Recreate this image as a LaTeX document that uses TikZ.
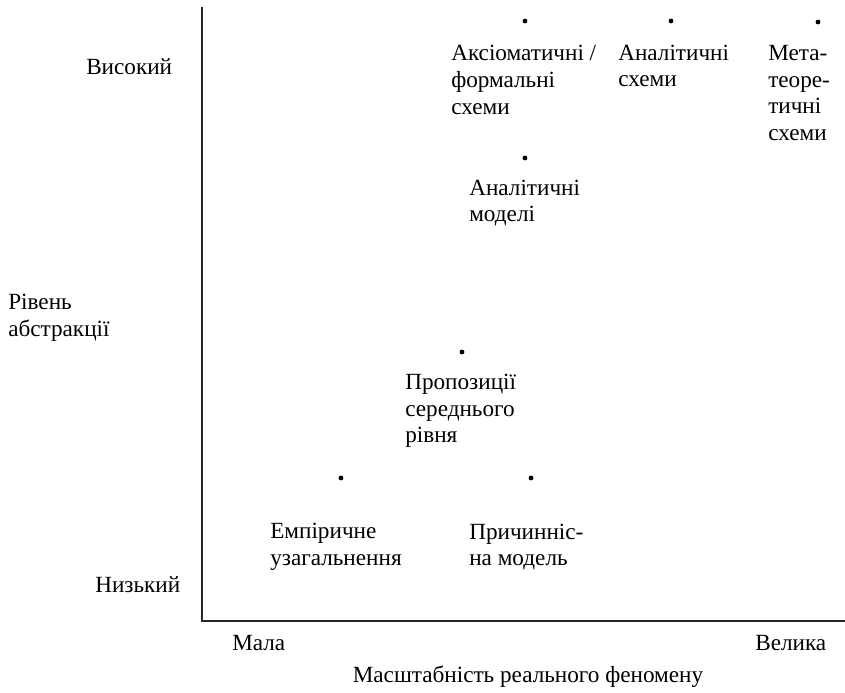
\documentclass[tikz,border=0pt]{standalone}
\usepackage{fontspec}
\setmainfont{Liberation Serif}
\begin{document}
\begin{tikzpicture}[x=0.75pt,y=-0.75pt,
  lbl/.style={font=\fontsize{17.4}{20}\selectfont, align=left, anchor=west, inner sep=0pt},
  pt/.style={circle, fill=black, inner sep=0pt, minimum size=3.6pt},
  axis/.style={line width=1.5pt, draw=black!85}]
\useasboundingbox (0,0) rectangle (845,692);
% axes
\coordinate (top) at (202,7);
\coordinate (origin) at (202,621);
\coordinate (right) at (845,621);
\draw[axis] (top) -- (origin) -- (right);
% axis labels
\node[lbl] (high) at (86,67) {Високий};
\node[lbl] (ylab) at (8,318) {Рівень\\абстракції};
\node[lbl] (low) at (95,585) {Низький};
\node[lbl] (small) at (232,643) {Мала};
\node[lbl] (large) at (755,643) {Велика};
\node[lbl, anchor=center] (xlab) at (528,677) {Масштабність реального феномену};
% points
\node[pt] (p1) at (525,21) {};
\node[pt] (p2) at (671,21) {};
\node[pt] (p3) at (818,22) {};
\node[pt] (p4) at (525,158) {};
\node[pt] (p5) at (462,352) {};
\node[pt] (p6) at (341,478) {};
\node[pt] (p7) at (531,478) {};
% labels
\node[lbl] (l1) at (451,80) {Аксіоматичні /\\формальні\\схеми};
\node[lbl] (l2) at (618,66) {Аналітичні\\схеми};
\node[lbl] (l3) at (768,93) {Мета-\\теоре-\\тичні\\схеми};
\node[lbl] (l4) at (469,203) {Аналітичні\\моделі};
\node[lbl] (l5) at (405,411) {Пропозиції\\середнього\\рівня};
\node[lbl] (l6) at (270,547) {Емпіричне\\узагальнення};
\node[lbl] (l7) at (469,547) {Причинніс-\\на модель};
\end{tikzpicture}
\end{document}
